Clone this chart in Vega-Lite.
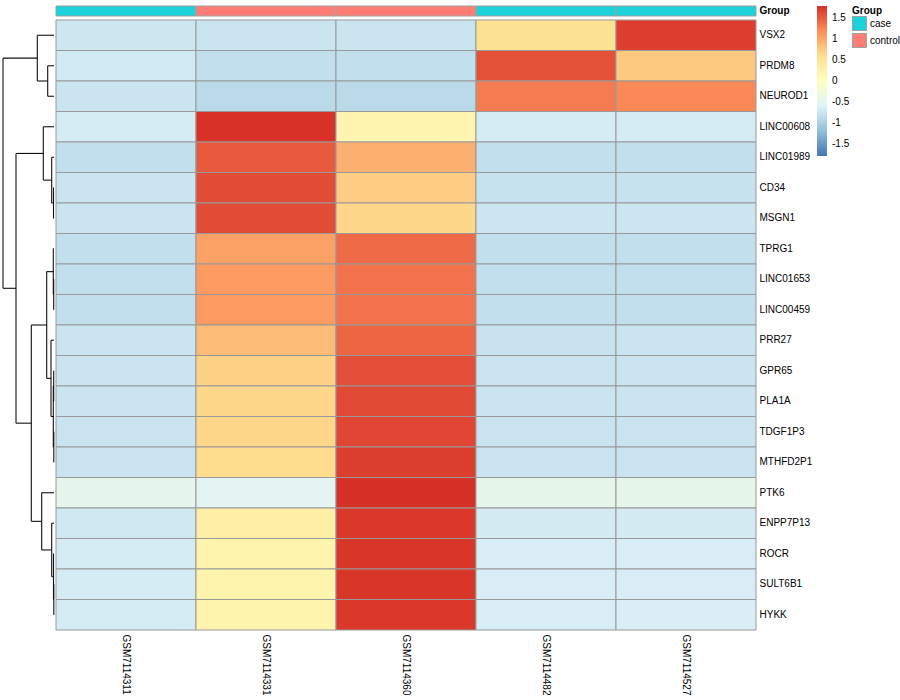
{
 "$schema": "https://vega.github.io/schema/vega-lite/v6.json",
 "padding": {"left": 0, "top": 5, "right": 0, "bottom": 0},
 "background": "white",
 "config": {"view": {"stroke": null}, "font": "Liberation Sans", "axis": {"labelFont": "Liberation Sans"}, "legend": {"labelFont": "Liberation Sans", "titleFont": "Liberation Sans"}},
 "datasets": {
  "anno": [
   {"sample": "GSM7114311", "group": "case", "track": "Group"},
   {"sample": "GSM7114331", "group": "control", "track": "Group"},
   {"sample": "GSM7114360", "group": "control", "track": "Group"},
   {"sample": "GSM7114482", "group": "case", "track": "Group"},
   {"sample": "GSM7114527", "group": "case", "track": "Group"}
  ],
  "heat": [
   {"gene": "VSX2", "sample": "GSM7114311", "z": -0.73}, {"gene": "VSX2", "sample": "GSM7114331", "z": -0.76}, {"gene": "VSX2", "sample": "GSM7114360", "z": -0.76}, {"gene": "VSX2", "sample": "GSM7114482", "z": 0.55}, {"gene": "VSX2", "sample": "GSM7114527", "z": 1.70},
   {"gene": "PRDM8", "sample": "GSM7114311", "z": -0.70}, {"gene": "PRDM8", "sample": "GSM7114331", "z": -0.82}, {"gene": "PRDM8", "sample": "GSM7114360", "z": -0.82}, {"gene": "PRDM8", "sample": "GSM7114482", "z": 1.58}, {"gene": "PRDM8", "sample": "GSM7114527", "z": 0.76},
   {"gene": "NEUROD1", "sample": "GSM7114311", "z": -0.76}, {"gene": "NEUROD1", "sample": "GSM7114331", "z": -0.88}, {"gene": "NEUROD1", "sample": "GSM7114360", "z": -0.88}, {"gene": "NEUROD1", "sample": "GSM7114482", "z": 1.30}, {"gene": "NEUROD1", "sample": "GSM7114527", "z": 1.22},
   {"gene": "LINC00608", "sample": "GSM7114311", "z": -0.68}, {"gene": "LINC00608", "sample": "GSM7114331", "z": 1.78}, {"gene": "LINC00608", "sample": "GSM7114360", "z": 0.19}, {"gene": "LINC00608", "sample": "GSM7114482", "z": -0.68}, {"gene": "LINC00608", "sample": "GSM7114527", "z": -0.68},
   {"gene": "LINC01989", "sample": "GSM7114311", "z": -0.82}, {"gene": "LINC01989", "sample": "GSM7114331", "z": 1.52}, {"gene": "LINC01989", "sample": "GSM7114360", "z": 0.95}, {"gene": "LINC01989", "sample": "GSM7114482", "z": -0.83}, {"gene": "LINC01989", "sample": "GSM7114527", "z": -0.82},
   {"gene": "CD34", "sample": "GSM7114311", "z": -0.76}, {"gene": "CD34", "sample": "GSM7114331", "z": 1.60}, {"gene": "CD34", "sample": "GSM7114360", "z": 0.74}, {"gene": "CD34", "sample": "GSM7114482", "z": -0.79}, {"gene": "CD34", "sample": "GSM7114527", "z": -0.79},
   {"gene": "MSGN1", "sample": "GSM7114311", "z": -0.76}, {"gene": "MSGN1", "sample": "GSM7114331", "z": 1.60}, {"gene": "MSGN1", "sample": "GSM7114360", "z": 0.66}, {"gene": "MSGN1", "sample": "GSM7114482", "z": -0.75}, {"gene": "MSGN1", "sample": "GSM7114527", "z": -0.75},
   {"gene": "TPRG1", "sample": "GSM7114311", "z": -0.82}, {"gene": "TPRG1", "sample": "GSM7114331", "z": 1.05}, {"gene": "TPRG1", "sample": "GSM7114360", "z": 1.41}, {"gene": "TPRG1", "sample": "GSM7114482", "z": -0.82}, {"gene": "TPRG1", "sample": "GSM7114527", "z": -0.82},
   {"gene": "LINC01653", "sample": "GSM7114311", "z": -0.82}, {"gene": "LINC01653", "sample": "GSM7114331", "z": 1.10}, {"gene": "LINC01653", "sample": "GSM7114360", "z": 1.36}, {"gene": "LINC01653", "sample": "GSM7114482", "z": -0.82}, {"gene": "LINC01653", "sample": "GSM7114527", "z": -0.82},
   {"gene": "LINC00459", "sample": "GSM7114311", "z": -0.82}, {"gene": "LINC00459", "sample": "GSM7114331", "z": 1.10}, {"gene": "LINC00459", "sample": "GSM7114360", "z": 1.36}, {"gene": "LINC00459", "sample": "GSM7114482", "z": -0.82}, {"gene": "LINC00459", "sample": "GSM7114527", "z": -0.82},
   {"gene": "PRR27", "sample": "GSM7114311", "z": -0.76}, {"gene": "PRR27", "sample": "GSM7114331", "z": 0.86}, {"gene": "PRR27", "sample": "GSM7114360", "z": 1.44}, {"gene": "PRR27", "sample": "GSM7114482", "z": -0.78}, {"gene": "PRR27", "sample": "GSM7114527", "z": -0.76},
   {"gene": "GPR65", "sample": "GSM7114311", "z": -0.76}, {"gene": "GPR65", "sample": "GSM7114331", "z": 0.70}, {"gene": "GPR65", "sample": "GSM7114360", "z": 1.59}, {"gene": "GPR65", "sample": "GSM7114482", "z": -0.77}, {"gene": "GPR65", "sample": "GSM7114527", "z": -0.76},
   {"gene": "PLA1A", "sample": "GSM7114311", "z": -0.76}, {"gene": "PLA1A", "sample": "GSM7114331", "z": 0.66}, {"gene": "PLA1A", "sample": "GSM7114360", "z": 1.62}, {"gene": "PLA1A", "sample": "GSM7114482", "z": -0.76}, {"gene": "PLA1A", "sample": "GSM7114527", "z": -0.76},
   {"gene": "TDGF1P3", "sample": "GSM7114311", "z": -0.77}, {"gene": "TDGF1P3", "sample": "GSM7114331", "z": 0.66}, {"gene": "TDGF1P3", "sample": "GSM7114360", "z": 1.65}, {"gene": "TDGF1P3", "sample": "GSM7114482", "z": -0.77}, {"gene": "TDGF1P3", "sample": "GSM7114527", "z": -0.77},
   {"gene": "MTHFD2P1", "sample": "GSM7114311", "z": -0.77}, {"gene": "MTHFD2P1", "sample": "GSM7114331", "z": 0.62}, {"gene": "MTHFD2P1", "sample": "GSM7114360", "z": 1.69}, {"gene": "MTHFD2P1", "sample": "GSM7114482", "z": -0.77}, {"gene": "MTHFD2P1", "sample": "GSM7114527", "z": -0.77},
   {"gene": "PTK6", "sample": "GSM7114311", "z": -0.47}, {"gene": "PTK6", "sample": "GSM7114331", "z": -0.53}, {"gene": "PTK6", "sample": "GSM7114360", "z": 1.79}, {"gene": "PTK6", "sample": "GSM7114482", "z": -0.46}, {"gene": "PTK6", "sample": "GSM7114527", "z": -0.46},
   {"gene": "ENPP7P13", "sample": "GSM7114311", "z": -0.72}, {"gene": "ENPP7P13", "sample": "GSM7114331", "z": 0.30}, {"gene": "ENPP7P13", "sample": "GSM7114360", "z": 1.74}, {"gene": "ENPP7P13", "sample": "GSM7114482", "z": -0.69}, {"gene": "ENPP7P13", "sample": "GSM7114527", "z": -0.69},
   {"gene": "ROCR", "sample": "GSM7114311", "z": -0.68}, {"gene": "ROCR", "sample": "GSM7114331", "z": 0.22}, {"gene": "ROCR", "sample": "GSM7114360", "z": 1.75}, {"gene": "ROCR", "sample": "GSM7114482", "z": -0.66}, {"gene": "ROCR", "sample": "GSM7114527", "z": -0.66},
   {"gene": "SULT6B1", "sample": "GSM7114311", "z": -0.68}, {"gene": "SULT6B1", "sample": "GSM7114331", "z": 0.22}, {"gene": "SULT6B1", "sample": "GSM7114360", "z": 1.75}, {"gene": "SULT6B1", "sample": "GSM7114482", "z": -0.66}, {"gene": "SULT6B1", "sample": "GSM7114527", "z": -0.66},
   {"gene": "HYKK", "sample": "GSM7114311", "z": -0.68}, {"gene": "HYKK", "sample": "GSM7114331", "z": 0.22}, {"gene": "HYKK", "sample": "GSM7114360", "z": 1.74}, {"gene": "HYKK", "sample": "GSM7114482", "z": -0.66}, {"gene": "HYKK", "sample": "GSM7114527", "z": -0.65}
  ],
  "dendro": [
   {"x1": 6.3, "x2": 6.3, "y1": 1.5, "y2": 2.5}, {"x1": 0, "x2": 6.3, "y1": 1.5, "y2": 1.5}, {"x1": 0, "x2": 6.3, "y1": 2.5, "y2": 2.5},
   {"x1": 16.7, "x2": 16.7, "y1": 0.5, "y2": 2.0}, {"x1": 0, "x2": 16.7, "y1": 0.5, "y2": 0.5}, {"x1": 6.3, "x2": 16.7, "y1": 2.0, "y2": 2.0},
   {"x1": 0.5, "x2": 0.5, "y1": 5.5, "y2": 6.5}, {"x1": 0, "x2": 0.5, "y1": 5.5, "y2": 5.5}, {"x1": 0, "x2": 0.5, "y1": 6.5, "y2": 6.5},
   {"x1": 2.3, "x2": 2.3, "y1": 4.5, "y2": 6.0}, {"x1": 0, "x2": 2.3, "y1": 4.5, "y2": 4.5}, {"x1": 0.5, "x2": 2.3, "y1": 6.0, "y2": 6.0},
   {"x1": 10.7, "x2": 10.7, "y1": 3.5, "y2": 5.25}, {"x1": 0, "x2": 10.7, "y1": 3.5, "y2": 3.5}, {"x1": 2.3, "x2": 10.7, "y1": 5.25, "y2": 5.25},
   {"x1": 0.3, "x2": 0.3, "y1": 8.5, "y2": 9.5}, {"x1": 0, "x2": 0.3, "y1": 8.5, "y2": 8.5}, {"x1": 0, "x2": 0.3, "y1": 9.5, "y2": 9.5},
   {"x1": 0.7, "x2": 0.7, "y1": 7.5, "y2": 9.0}, {"x1": 0, "x2": 0.7, "y1": 7.5, "y2": 7.5}, {"x1": 0.3, "x2": 0.7, "y1": 9.0, "y2": 9.0},
   {"x1": 0.3, "x2": 0.3, "y1": 11.5, "y2": 12.5}, {"x1": 0, "x2": 0.3, "y1": 11.5, "y2": 11.5}, {"x1": 0, "x2": 0.3, "y1": 12.5, "y2": 12.5},
   {"x1": 0.2, "x2": 0.2, "y1": 13.5, "y2": 14.5}, {"x1": 0, "x2": 0.2, "y1": 13.5, "y2": 13.5}, {"x1": 0, "x2": 0.2, "y1": 14.5, "y2": 14.5},
   {"x1": 0.7, "x2": 0.7, "y1": 12.0, "y2": 14.0}, {"x1": 0.3, "x2": 0.7, "y1": 12.0, "y2": 12.0}, {"x1": 0.2, "x2": 0.7, "y1": 14.0, "y2": 14.0},
   {"x1": 3, "x2": 3, "y1": 10.5, "y2": 13.0}, {"x1": 0, "x2": 3, "y1": 10.5, "y2": 10.5}, {"x1": 0.7, "x2": 3, "y1": 13.0, "y2": 13.0},
   {"x1": 7.3, "x2": 7.3, "y1": 8.25, "y2": 11.75}, {"x1": 0.7, "x2": 7.3, "y1": 8.25, "y2": 8.25}, {"x1": 3, "x2": 7.3, "y1": 11.75, "y2": 11.75},
   {"x1": 0.2, "x2": 0.2, "y1": 18.5, "y2": 19.5}, {"x1": 0, "x2": 0.2, "y1": 18.5, "y2": 18.5}, {"x1": 0, "x2": 0.2, "y1": 19.5, "y2": 19.5},
   {"x1": 0.5, "x2": 0.5, "y1": 17.5, "y2": 19.0}, {"x1": 0, "x2": 0.5, "y1": 17.5, "y2": 17.5}, {"x1": 0.2, "x2": 0.5, "y1": 19.0, "y2": 19.0},
   {"x1": 2.3, "x2": 2.3, "y1": 16.5, "y2": 18.25}, {"x1": 0, "x2": 2.3, "y1": 16.5, "y2": 16.5}, {"x1": 0.5, "x2": 2.3, "y1": 18.25, "y2": 18.25},
   {"x1": 12.3, "x2": 12.3, "y1": 15.5, "y2": 17.375}, {"x1": 0, "x2": 12.3, "y1": 15.5, "y2": 15.5}, {"x1": 2.3, "x2": 12.3, "y1": 17.375, "y2": 17.375},
   {"x1": 22.7, "x2": 22.7, "y1": 10.0, "y2": 16.4375}, {"x1": 7.3, "x2": 22.7, "y1": 10.0, "y2": 10.0}, {"x1": 12.3, "x2": 22.7, "y1": 16.4375, "y2": 16.4375},
   {"x1": 38, "x2": 38, "y1": 4.375, "y2": 13.21875}, {"x1": 10.7, "x2": 38, "y1": 4.375, "y2": 4.375}, {"x1": 22.7, "x2": 38, "y1": 13.21875, "y2": 13.21875},
   {"x1": 51, "x2": 51, "y1": 1.25, "y2": 8.796875}, {"x1": 16.7, "x2": 51, "y1": 1.25, "y2": 1.25}, {"x1": 38, "x2": 51, "y1": 8.796875, "y2": 8.796875}
  ]
 },
 "spacing": 0,
 "resolve": {"scale": {"x": "independent", "y": "independent"}},
 "hconcat": [
  {
   "width": 54,
   "height": 624,
   "data": {"name": "dendro"},
   "mark": {"type": "rule", "color": "#111111", "strokeWidth": 1.1},
   "encoding": {
    "x": {"field": "x1", "type": "quantitative", "scale": {"domain": [0, 54], "reverse": true, "nice": false, "zero": false}, "axis": null},
    "x2": {"field": "x2"},
    "y": {"field": "y1", "type": "quantitative", "scale": {"domain": [-0.459, 20], "reverse": true, "nice": false, "zero": false}, "axis": null},
    "y2": {"field": "y2"}
   }
  },
  {
   "spacing": 4,
   "bounds": "flush",
   "resolve": {"scale": {"x": "shared", "y": "independent"}},
   "vconcat": [
    {
     "width": 700,
     "height": 10,
     "data": {"name": "anno"},
     "mark": {"type": "rect", "stroke": "#a0a0a0", "strokeWidth": 1},
     "encoding": {
      "x": {"field": "sample", "type": "nominal", "sort": ["GSM7114311", "GSM7114331", "GSM7114360", "GSM7114482", "GSM7114527"], "scale": {"paddingInner": 0, "paddingOuter": 0}, "axis": null},
      "y": {"field": "track", "type": "nominal", "scale": {"paddingInner": 0, "paddingOuter": 0}, "axis": {"orient": "right", "title": null, "ticks": false, "domain": false, "labelFontWeight": "bold", "labelFontSize": 10, "labelPadding": 3, "labelColor": "black"}},
      "fill": {"field": "group", "type": "nominal", "scale": {"domain": ["case", "control"], "range": ["#1CD2DA", "#FE7D74"]},
       "legend": {"orient": "none", "legendX": 852, "legendY": 0, "title": "Group", "titleFontSize": 10, "titleFontWeight": "bold", "titleColor": "black", "titlePadding": 0, "labelFontSize": 10, "labelColor": "black", "labelOffset": 3, "symbolType": "square", "symbolSize": 196, "symbolStrokeColor": "#a0a0a0", "symbolStrokeWidth": 1, "symbolOpacity": 1, "rowPadding": -7}}
     }
    },
    {
     "width": 700,
     "height": 610,
     "data": {"name": "heat"},
     "mark": {"type": "rect", "stroke": "#999999", "strokeWidth": 1},
     "encoding": {
      "x": {"field": "sample", "type": "nominal", "sort": ["GSM7114311", "GSM7114331", "GSM7114360", "GSM7114482", "GSM7114527"], "scale": {"paddingInner": 0, "paddingOuter": 0},
       "axis": {"orient": "bottom", "title": null, "labelAngle": 90, "ticks": false, "domain": false, "labelFontSize": 10, "labelPadding": 4, "labelColor": "black", "labelAlign": "left", "labelBaseline": "middle"}},
      "y": {"field": "gene", "type": "nominal", "sort": ["VSX2", "PRDM8", "NEUROD1", "LINC00608", "LINC01989", "CD34", "MSGN1", "TPRG1", "LINC01653", "LINC00459", "PRR27", "GPR65", "PLA1A", "TDGF1P3", "MTHFD2P1", "PTK6", "ENPP7P13", "ROCR", "SULT6B1", "HYKK"], "scale": {"paddingInner": 0, "paddingOuter": 0},
       "axis": {"orient": "right", "title": null, "ticks": false, "domain": false, "labelFontSize": 10, "labelPadding": 3, "labelColor": "black"}},
      "color": {"field": "z", "type": "quantitative",
       "scale": {"domain": [-1.789, -1.193, -0.596, 0, 0.596, 1.193, 1.789], "range": ["#4575b4", "#91bfdb", "#e0f3f8", "#ffffbf", "#fee090", "#fc8d59", "#d73027"], "interpolate": "rgb"},
       "legend": {"orient": "none", "legendX": 817, "legendY": 0, "title": null, "direction": "vertical", "gradientLength": 150, "gradientThickness": 10, "gradientStrokeWidth": 0, "values": [-1.5, -1, -0.5, 0, 0.5, 1, 1.5], "labelExpr": "'' + datum.value", "labelFontSize": 10, "labelColor": "black", "labelOffset": 5}}
     }
    }
   ]
  }
 ]
}
